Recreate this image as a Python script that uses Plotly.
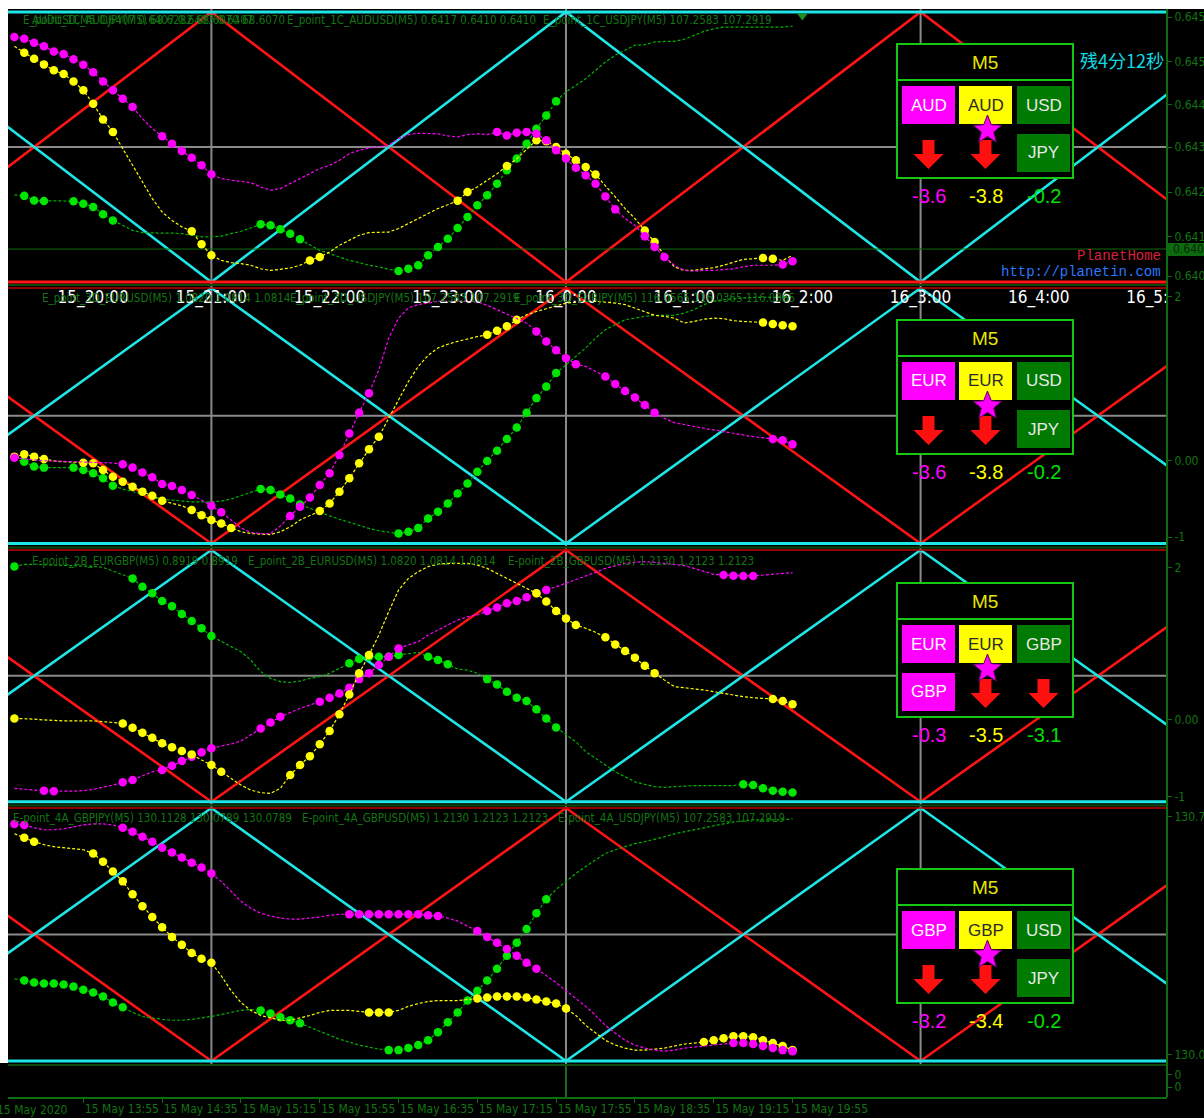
import math
import pandas as pd
import plotly.graph_objects as go

W, H = 1204, 1118

# ------------------------------------------------------------------ data
BAR_START = "2020-05-15 19:20"
N_BARS = 80
BARS = pd.date_range(BAR_START, periods=N_BARS, freq="5min")

X_RANGE = ["2020-05-15 19:16:45", "2020-05-16 05:05:05"]
VGRID_T = ["2020-05-15 21:00", "2020-05-16 00:00", "2020-05-16 03:00"]
TRI_T = ["2020-05-15 18:00", "2020-05-15 21:00", "2020-05-16 00:00",
         "2020-05-16 03:00", "2020-05-16 06:00"]
RED_P1 = [0, 100, 0, 100, 0]
CYAN_P1 = [100, 0, 100, 0, 100]
RED_PN = [100, 0, 100, 0, 100]
CYAN_PN = [0, 100, 0, 100, 0]
MID_LEVEL = 50

HOUR_LABEL_T = ["2020-05-15 20:00", "2020-05-15 21:00", "2020-05-15 22:00",
                "2020-05-15 23:00", "2020-05-16 00:00", "2020-05-16 01:00",
                "2020-05-16 02:00", "2020-05-16 03:00", "2020-05-16 04:00",
                "2020-05-16 05:00"]
HOUR_LABEL_TXT = ["15_20:00", "15_21:00", "15_22:00", "15_23:00", "16_0:00",
                  "16_1:00", "16_2:00", "16_3:00", "16_4:00", "16_5:00"]

BOTTOM_TICK_T = ["2020-05-15 19:55", "2020-05-15 20:35", "2020-05-15 21:15",
                 "2020-05-15 21:55", "2020-05-15 22:35", "2020-05-15 23:15",
                 "2020-05-15 23:55", "2020-05-16 00:35", "2020-05-16 01:15",
                 "2020-05-16 01:55"]
BOTTOM_TICK_TXT = ["15 May 13:55", "15 May 14:35", "15 May 15:15", "15 May 15:55",
                   "15 May 16:35", "15 May 17:15", "15 May 17:55", "15 May 18:35",
                   "15 May 19:15", "15 May 19:55"]

# panel 1 (AUD)
P1_MAG = [90.7, 90.1, 88.6, 87.3, 85.4, 84.4, 82.5, 80.5, 77.7, 74.3,
          71.0, 67.9, 64.8, 60.5, 56.8, 54.0, 51.2, 48.5, 46.0, 43.2,
          39.9, 38.3, 37.7, 37.3, 36.8, 35.2, 34.0, 34.6, 36.4, 38.3,
          40.1, 42.0, 43.2, 45.1, 47.5, 48.8, 49.6, 50.0, 50.6, 53.1,
          54.6, 55.1, 54.9, 54.9, 54.1, 53.7, 54.6, 54.9, 54.6, 55.6,
          54.3, 55.3, 55.6, 54.9, 52.5, 48.8, 45.7, 42.3, 39.5, 36.4,
          31.7, 26.9, 23.5, 21.0, 16.9, 13.0, 9.3, 6.2, 4.3, 4.0,
          4.3, 4.3, 4.7, 4.9, 5.6, 6.2, 6.2, 6.2, 6.5, 7.7]
P1_MAG_DOTS = [(0, 12), (15, 20), (49, 61), (64, 66), (78, 79)]
P1_YEL = [87.3, 84.9, 82.7, 80.6, 78.4, 77.0, 74.3, 71.0, 66.0, 60.2,
          55.6, 49.4, 43.2, 37.0, 30.9, 25.9, 22.8, 20.4, 18.8, 14.0,
          9.9, 8.0, 7.2, 6.8, 6.2, 4.9, 4.3, 4.7, 5.2, 6.2,
          8.0, 9.3, 11.1, 13.6, 15.4, 17.3, 18.3, 18.3, 18.5, 19.8,
          21.6, 23.5, 25.3, 27.2, 28.6, 30.1, 33.3, 35.2, 37.7, 40.1,
          43.0, 45.7, 49.1, 52.5, 52.1, 50.0, 47.5, 45.1, 42.6, 39.8,
          35.8, 31.5, 27.2, 23.5, 19.1, 14.8, 9.9, 5.6, 4.3, 4.3,
          4.9, 5.3, 6.2, 7.4, 8.4, 8.6, 8.9, 8.6, 8.0, 9.9]
P1_YEL_DOTS = [(1, 10), (18, 20), (30, 31), (45, 46), (50, 50), (53, 59), (64, 65), (76, 77)]
P1_GRN = [32.3, 31.9, 30.2, 30.0, 30.1, 30.1, 29.9, 29.0, 27.8, 25.1,
          22.8, 21.0, 19.1, 18.3, 18.1, 18.1, 18.1, 17.9, 17.3, 16.7,
          16.7, 17.0, 17.9, 18.8, 20.0, 21.4, 21.0, 19.5, 17.9, 15.8,
          13.6, 11.7, 10.5, 9.3, 8.0, 7.2, 6.2, 5.6, 4.7, 4.1,
          4.9, 6.2, 9.9, 13.0, 16.0, 20.0, 24.1, 28.4, 32.1, 36.4,
          41.4, 45.7, 51.2, 56.8, 61.7, 66.9, 70.4, 72.8, 75.3, 78.4,
          81.5, 84.0, 85.8, 87.7, 87.9, 88.9, 89.1, 89.1, 89.9, 91.4,
          92.8, 93.8, 94.4, 94.4, 94.4, 94.4, 94.4, 94.4, 94.4, 94.8]
P1_GRN_DOTS = [(1, 3), (6, 10), (25, 29), (39, 55)]
P1_PRICE_LEVEL = 12.2

# panel 2 (EUR / USD / JPY)
P2_MAG = [33.6, 33.1, 32.7, 32.4, 32.3, 32.0, 32.0, 32.0, 31.8, 31.6,
          31.5, 31.0, 29.7, 27.8, 25.9, 23.3, 22.5, 20.9, 19.0, 17.0,
          14.8, 12.2, 9.2, 6.1, 4.3, 3.9, 3.9, 6.9, 10.8, 14.4,
          18.0, 22.9, 27.5, 34.6, 43.1, 51.2, 58.8, 68.0, 80.4, 88.2,
          92.2, 93.5, 94.1, 94.8, 94.8, 94.8, 94.8, 94.5, 93.2, 91.5,
          89.8, 88.2, 86.3, 83.0, 79.1, 75.6, 72.5, 70.2, 69.3, 67.3,
          65.4, 62.4, 59.7, 57.1, 54.2, 51.2, 49.0, 47.3, 46.4, 45.8,
          45.1, 44.4, 43.8, 43.1, 42.5, 41.8, 41.4, 40.9, 40.4, 38.8]
P2_MAG_DOTS = [(0, 0), (11, 18), (20, 21), (28, 36), (53, 57), (60, 65), (77, 79)]
P2_YEL = [34.0, 34.9, 34.0, 33.1, 32.3, 32.0, 31.8, 31.6, 31.4, 28.8,
          26.1, 24.2, 22.2, 20.3, 18.7, 16.7, 15.7, 14.8, 13.1, 11.1,
          9.2, 7.8, 6.1, 4.6, 3.9, 3.7, 3.5, 4.6, 6.5, 9.2,
          11.1, 12.7, 15.7, 20.3, 25.5, 31.4, 36.9, 41.8, 49.0, 56.2,
          63.4, 69.3, 73.6, 76.5, 78.0, 79.1, 80.1, 81.0, 81.7, 83.3,
          85.0, 87.6, 89.5, 90.8, 91.9, 92.8, 94.1, 94.5, 94.8, 94.8,
          94.5, 94.1, 93.5, 92.2, 90.8, 89.3, 88.9, 88.2, 86.3, 86.9,
          87.8, 88.2, 88.0, 87.2, 86.9, 86.7, 86.5, 85.9, 85.4, 85.0]
P2_YEL_DOTS = [(0, 3), (7, 15), (18, 22), (31, 37), (48, 51), (76, 79)]
P2_GRN = [33.1, 32.0, 30.1, 29.7, 29.7, 29.7, 29.7, 28.8, 27.5, 25.5,
          22.6, 21.3, 20.3, 19.2, 18.2, 17.4, 17.0, 16.6, 16.3, 16.3,
          16.3, 16.6, 17.4, 18.7, 20.0, 21.3, 20.9, 19.2, 17.6, 15.3,
          13.7, 12.2, 10.8, 9.5, 8.2, 6.9, 5.9, 5.0, 4.3, 3.9,
          4.6, 6.1, 9.8, 12.4, 15.7, 19.6, 23.5, 28.1, 32.3, 36.3,
          40.9, 45.4, 51.2, 56.9, 61.4, 66.7, 69.9, 73.2, 76.5, 80.4,
          83.7, 85.6, 87.6, 88.2, 88.9, 89.3, 89.3, 89.3, 90.2, 91.5,
          93.5, 94.8, 95.4, 95.8, 96.1, 96.3, 96.3, 96.3, 96.3, 96.3]
P2_GRN_DOTS = [(1, 3), (6, 10), (25, 29), (39, 55)]

# panel 3 (EUR / GBP)
P3_MAG = [5.3, 4.9, 4.6, 4.4, 4.2, 4.2, 4.2, 4.4, 4.9, 5.6,
          6.6, 7.7, 8.6, 10.3, 11.9, 12.6, 14.3, 16.2, 17.9, 19.6,
          21.2, 22.1, 22.9, 24.1, 26.5, 29.1, 31.5, 33.8, 35.4, 37.1,
          38.4, 39.7, 41.3, 43.0, 45.3, 48.7, 51.0, 54.3, 57.6, 60.9,
          62.3, 63.6, 66.2, 68.2, 70.2, 72.2, 73.5, 74.2, 75.8, 77.2,
          78.8, 79.7, 81.2, 82.8, 84.1, 85.4, 86.8, 88.1, 89.4, 91.1,
          92.7, 93.8, 94.7, 95.1, 95.4, 95.1, 94.7, 94.3, 93.8, 92.7,
          91.4, 90.3, 90.1, 89.8, 89.7, 89.7, 90.1, 90.3, 90.7, 91.0]
P3_MAG_DOTS = [(3, 4), (11, 12), (15, 20), (25, 27), (31, 39), (48, 54), (72, 75)]
P3_YEL = [33.1, 33.1, 32.8, 32.5, 32.2, 32.1, 32.1, 32.1, 32.1, 31.8,
          31.5, 31.1, 29.4, 27.4, 25.4, 23.2, 21.6, 20.1, 18.8, 16.6,
          14.6, 11.9, 9.3, 6.6, 4.6, 3.6, 3.3, 5.3, 10.6, 14.6,
          18.1, 22.8, 28.1, 34.7, 42.6, 51.0, 58.3, 66.2, 75.5, 84.1,
          88.7, 91.4, 93.4, 94.4, 94.7, 94.7, 94.7, 94.0, 92.7, 90.7,
          88.7, 86.8, 84.8, 82.8, 79.5, 75.8, 72.8, 70.2, 68.9, 67.3,
          65.3, 62.5, 59.9, 57.2, 54.0, 51.0, 48.3, 45.7, 45.3, 45.0,
          44.4, 43.7, 43.0, 42.1, 41.7, 41.3, 41.1, 40.8, 40.0, 38.7]
P3_YEL_DOTS = [(0, 0), (11, 18), (20, 21), (28, 36), (53, 57), (60, 65), (77, 79)]
P3_GRN = [93.4, 94.3, 94.3, 94.2, 94.0, 94.0, 93.9, 93.8, 93.5, 93.1,
          91.7, 90.1, 88.7, 85.4, 82.8, 79.7, 77.7, 74.6, 71.8, 68.9,
          65.8, 63.6, 61.6, 59.6, 56.3, 51.7, 49.0, 47.7, 47.4, 47.9,
          49.0, 49.7, 51.0, 53.0, 55.0, 56.7, 57.6, 57.6, 57.6, 58.3,
          58.9, 59.3, 57.6, 56.3, 54.6, 52.7, 52.3, 51.0, 48.7, 46.6,
          43.7, 41.3, 40.0, 36.7, 33.1, 29.5, 26.5, 23.8, 19.9, 17.2,
          14.6, 11.9, 9.9, 7.9, 6.9, 6.0, 5.7, 6.0, 6.4, 6.4,
          6.4, 6.4, 6.4, 6.4, 6.9, 6.6, 5.3, 4.4, 4.0, 3.7]
P3_GRN_DOTS = [(0, 0), (12, 20), (34, 39), (42, 44), (48, 55), (74, 79)]

# panel 4 (GBP / USD / JPY)
P4_MAG = [93.7, 93.3, 92.2, 91.4, 91.4, 91.8, 92.5, 93.3, 93.7, 93.7,
          93.3, 92.2, 90.6, 88.6, 86.7, 84.3, 82.4, 80.4, 78.4, 76.5,
          74.1, 71.0, 67.1, 63.1, 60.4, 58.4, 57.3, 56.5, 56.1, 56.1,
          56.5, 56.9, 57.6, 58.0, 58.0, 58.0, 58.0, 58.0, 58.0, 58.0,
          58.0, 58.0, 57.6, 57.3, 56.5, 55.3, 53.3, 51.4, 49.0, 46.7,
          44.3, 41.6, 38.8, 36.5, 33.7, 31.0, 27.8, 24.7, 21.6, 18.0,
          14.1, 11.0, 8.2, 6.3, 5.1, 4.3, 3.9, 4.3, 5.1, 5.5,
          5.9, 6.3, 6.7, 7.1, 7.1, 6.7, 5.9, 5.1, 4.3, 3.9]
P4_MAG_DOTS = [(0, 1), (11, 20), (34, 43), (47, 53), (73, 79)]
P4_YEL = [89.8, 88.2, 86.7, 85.5, 84.7, 84.3, 83.9, 83.5, 82.0, 78.8,
          74.9, 71.0, 65.9, 61.2, 56.9, 52.9, 49.0, 45.9, 42.7, 40.4,
          38.8, 33.7, 27.8, 23.1, 20.0, 18.0, 16.9, 16.1, 16.1, 16.9,
          18.0, 19.2, 20.0, 20.0, 20.0, 19.6, 19.2, 19.2, 19.2, 20.0,
          21.6, 22.7, 23.5, 23.9, 23.9, 23.9, 24.3, 24.7, 25.1, 25.5,
          25.5, 25.5, 25.1, 24.3, 23.5, 22.7, 20.8, 18.0, 14.1, 11.0,
          8.2, 6.3, 5.1, 4.3, 4.3, 4.7, 5.1, 5.9, 6.7, 7.1,
          7.5, 8.2, 9.0, 9.8, 9.8, 9.4, 8.2, 7.1, 5.9, 4.3]
P4_YEL_DOTS = [(1, 2), (8, 20), (36, 38), (47, 56), (70, 79)]
P4_GRN = [32.5, 31.8, 31.0, 30.6, 30.6, 30.2, 29.4, 28.2, 27.1, 25.5,
          23.1, 21.2, 19.2, 17.6, 16.9, 16.5, 16.1, 16.1, 16.5, 16.9,
          17.6, 18.4, 19.2, 20.0, 20.4, 20.0, 18.8, 17.3, 16.1, 14.9,
          13.3, 11.8, 10.2, 8.6, 7.5, 6.3, 5.5, 4.7, 4.3, 4.3,
          5.1, 6.3, 8.2, 11.4, 15.3, 19.2, 23.9, 27.8, 31.8, 36.5,
          41.6, 46.7, 52.2, 58.4, 63.9, 67.8, 71.0, 74.1, 76.9, 79.6,
          82.0, 83.5, 84.7, 85.9, 86.7, 87.5, 88.6, 89.8, 90.6, 91.4,
          92.2, 92.9, 93.7, 94.5, 94.9, 95.3, 95.3, 95.3, 95.3, 95.7]
P4_GRN_DOTS = [(1, 11), (25, 29), (38, 54)]

# right-axis labels (value positions in each panel's 0..100 channel scale)
P1_TICK_VALS = [98.1, 81.5, 65.6, 50.0, 33.3, 16.7, 2.2]
P1_TICK_TXT = ["0.6456", "0.6452", "0.6442", "0.6431", "0.6421", "0.6410", "0.6401"]
P2_TICK_VALS = [96.5, 32.3, 2.5]
P2_TICK_TXT = ["2", "0.00", "-1"]
P3_TICK_VALS = [93.0, 32.5, 2.0]
P3_TICK_TXT = ["2", "0.00", "-1"]
P4_TICK_VALS = [96.6, 2.4]
P4_TICK_TXT = ["130.72", "130.04"]
P5_TICK_VALS = [0.71, 0.32]
P5_TICK_TXT = ["0", "0"]

# strength panels
BOX_TITLES = ["M5", "M5", "M5", "M5"]
BOX_CELLS = [
    [("AUD", 0, 0, "m"), ("AUD", 1, 0, "y"), ("USD", 2, 0, "g"), ("JPY", 2, 1, "g")],
    [("EUR", 0, 0, "m"), ("EUR", 1, 0, "y"), ("USD", 2, 0, "g"), ("JPY", 2, 1, "g")],
    [("EUR", 0, 0, "m"), ("EUR", 1, 0, "y"), ("GBP", 2, 0, "g"), ("GBP", 0, 1, "m")],
    [("GBP", 0, 0, "m"), ("GBP", 1, 0, "y"), ("USD", 2, 0, "g"), ("JPY", 2, 1, "g")],
]
BOX_ARROWS = [[0, 1], [0, 1], [1, 2], [0, 1]]
BOX_VALUES = [["-3.6", "-3.8", "-0.2"], ["-3.6", "-3.8", "-0.2"],
              ["-0.3", "-3.5", "-3.1"], ["-3.2", "-3.4", "-0.2"]]

HEADERS = [
    [("E_point_1C_AUDJPY(M5) 68.6282 68.6070 68.6070", 21),
     ("AUDUSD,M5 0.6407 0.6407 0.6407 0.6407", 30),
     ("E_point_1C_AUDUSD(M5) 0.6417 0.6410 0.6410", 285),
     ("E_point_1C_USDJPY(M5) 107.2583 107.2919", 541)],
    [("E_point_3D_EURUSD(M5) 1.0820 1.0814 1.0814", 40),
     ("E_point_3D_USDJPY(M5) 107.2583 107.2919", 288),
     ("E_point_3D_EURJPY(M5) 116.0565 116.0365 116.0365", 512)],
    [("E-point_2B_EURGBP(M5) 0.8919 0.8919", 30),
     ("E_point_2B_EURUSD(M5) 1.0820 1.0814 1.0814", 246),
     ("E-point_2B_GBPUSD(M5) 1.2130 1.2123 1.2123", 506)],
    [("E-point_4A_GBPJPY(M5) 130.1128 130.0789 130.0789", 11),
     ("E-point_4A_GBPUSD(M5) 1.2130 1.2123 1.2123", 300),
     ("E-point_4A_USDJPY(M5) 107.2583 107.2919", 556)],
]

for arr in [P1_MAG, P1_YEL, P1_GRN, P2_MAG, P2_YEL, P2_GRN,
            P3_MAG, P3_YEL, P3_GRN, P4_MAG, P4_YEL, P4_GRN]:
    assert len(arr) == N_BARS, len(arr)

# ------------------------------------------------------------------ style / layout
NARROW = "Liberation Sans Narrow, DejaVu Sans Condensed, Arial Narrow, sans-serif"
SANS = "Liberation Sans, Arial, sans-serif"
MONO = "Liberation Mono, DejaVu Sans Mono, monospace"
CJK = "Noto Sans CJK JP, Noto Sans CJK SC, sans-serif"
AX_GREEN = "#0e6e0e"
LBL_GREEN = "#137513"
MAG, YEL = "#ff00ff", "#ffff00"
GRN_DOT, GRN_LINE = "#00e600", "#00b400"
RED, CYAN, GRAY = "#ff1414", "#1ee6e6", "#8a8a8a"

PANELS = [(12, 282), (288, 543.5), (550, 801.7), (808, 1061)]
HEADER_ROWS = [20, 298, 561, 818]


def xd(px):
    return px / W


def yd(py):
    return 1 - py / H


fig = go.Figure()
layout_axes = {}


def yname(i):
    return "y" if i == 0 else f"y{i + 1}"


series = [
    [(P1_GRN, P1_GRN_DOTS, "g"), (P1_YEL, P1_YEL_DOTS, "y"), (P1_MAG, P1_MAG_DOTS, "m")],
    [(P2_GRN, P2_GRN_DOTS, "g"), (P2_YEL, P2_YEL_DOTS, "y"), (P2_MAG, P2_MAG_DOTS, "m")],
    [(P3_GRN, P3_GRN_DOTS, "g"), (P3_MAG, P3_MAG_DOTS, "m"), (P3_YEL, P3_YEL_DOTS, "y")],
    [(P4_GRN, P4_GRN_DOTS, "g"), (P4_YEL, P4_YEL_DOTS, "y"), (P4_MAG, P4_MAG_DOTS, "m")],
]
ticks = [(P1_TICK_VALS, P1_TICK_TXT), (P2_TICK_VALS, P2_TICK_TXT),
         (P3_TICK_VALS, P3_TICK_TXT), (P4_TICK_VALS, P4_TICK_TXT)]
COL = {"m": (MAG, MAG), "y": (YEL, YEL), "g": (GRN_LINE, GRN_DOT)}

for i, (P, T) in enumerate(PANELS):
    ya = yname(i)
    e = 3 * 100 / (T - P)
    lo, hi = -e, 100 + e
    axkey = "yaxis" if i == 0 else f"yaxis{i + 1}"
    layout_axes[axkey] = dict(
        domain=[yd(T + 3), yd(P - 3)], range=[lo, hi], anchor="x", side="right",
        showgrid=False, zeroline=False, showline=False, ticks="outside", ticklen=4,
        tickcolor=AX_GREEN, tickvals=ticks[i][0], ticktext=ticks[i][1], automargin=False,
        tickfont=dict(family=NARROW, size=12, color=LBL_GREEN), fixedrange=True)

    gx, gy = [], []
    for g in VGRID_T:
        gx += [g, g, None]
        gy += [lo, hi, None]
    fig.add_trace(go.Scatter(x=gx, y=gy, yaxis=ya, mode="lines",
                             line=dict(color=GRAY, width=2), hoverinfo="skip"))
    fig.add_trace(go.Scatter(x=X_RANGE, y=[MID_LEVEL, MID_LEVEL], yaxis=ya, mode="lines",
                             line=dict(color=GRAY, width=2), hoverinfo="skip"))
    red = RED_P1 if i == 0 else RED_PN
    cyan = CYAN_P1 if i == 0 else CYAN_PN
    fig.add_trace(go.Scatter(x=TRI_T, y=red, yaxis=ya, mode="lines",
                             line=dict(color=RED, width=2.6), hoverinfo="skip"))
    fig.add_trace(go.Scatter(x=TRI_T, y=cyan, yaxis=ya, mode="lines",
                             line=dict(color=CYAN, width=2.6), hoverinfo="skip"))
    if i == 0:
        fig.add_trace(go.Scatter(x=X_RANGE, y=[100, 100], yaxis=ya, mode="lines",
                                 line=dict(color=CYAN, width=3), hoverinfo="skip"))
        fig.add_trace(go.Scatter(x=X_RANGE, y=[0, 0], yaxis=ya, mode="lines",
                                 line=dict(color=RED, width=3), hoverinfo="skip"))
        fig.add_trace(go.Scatter(x=X_RANGE, y=[P1_PRICE_LEVEL] * 2, yaxis=ya, mode="lines",
                                 line=dict(color="#0b6a0b", width=1), hoverinfo="skip"))
    else:
        fig.add_trace(go.Scatter(x=X_RANGE, y=[100, 100], yaxis=ya, mode="lines",
                                 line=dict(color="#c00000", width=1.6), hoverinfo="skip"))
        fig.add_trace(go.Scatter(x=X_RANGE, y=[0, 0], yaxis=ya, mode="lines",
                                 line=dict(color=CYAN, width=3), hoverinfo="skip"))

    for vals, dots, c in series[i]:
        lc, dc = COL[c]
        fig.add_trace(go.Scatter(x=BARS, y=vals, yaxis=ya, mode="lines",
                                 line=dict(color=lc, width=1.2, dash="3px,2px"),
                                 hoverinfo="skip"))
        dy = [None] * N_BARS
        for a, b in dots:
            for k in range(a, b + 1):
                dy[k] = vals[k]
        fig.add_trace(go.Scatter(x=BARS, y=dy, yaxis=ya, mode="markers",
                                 marker=dict(color=dc, size=8.5, line=dict(width=0)),
                                 cliponaxis=False, hoverinfo="skip"))

fig.add_trace(go.Scatter(x=HOUR_LABEL_T, y=[95.8] * len(HOUR_LABEL_T), yaxis="y2",
                         mode="text", text=HOUR_LABEL_TXT, cliponaxis=True,
                         textfont=dict(family=NARROW, size=17, color="white"),
                         hoverinfo="skip"))
fig.add_trace(go.Scatter(x=["2020-05-16 02:00"], y=[98.5], yaxis="y", mode="markers",
                         marker=dict(symbol="triangle-down", size=9, color="#1f8f1f"),
                         cliponaxis=False, hoverinfo="skip"))

layout_axes["yaxis5"] = dict(
    domain=[yd(1097), yd(1066)], range=[0, 1], anchor="x", side="right",
    showgrid=False, zeroline=False, showline=False, ticks="outside", ticklen=4,
    tickcolor=AX_GREEN, tickvals=P5_TICK_VALS, ticktext=P5_TICK_TXT, automargin=False,
    tickfont=dict(family=NARROW, size=12, color=LBL_GREEN), fixedrange=True)
fig.add_trace(go.Scatter(x=[VGRID_T[1], VGRID_T[1]], y=[0, 1], yaxis="y5", mode="lines",
                         line=dict(color="#3ccf3c", width=1), hoverinfo="skip"))

# ------------------------------------------------------------------ shapes & annotations
shapes, annots = [], []
shapes.append(dict(type="rect", xref="paper", yref="paper", x0=0, x1=1, y0=yd(9), y1=1,
                   fillcolor="white", line=dict(width=0), layer="below"))
shapes.append(dict(type="rect", xref="paper", yref="paper", x0=0, x1=xd(8), y0=yd(1063), y1=1,
                   fillcolor="white", line=dict(width=0), layer="below"))
for py in [285, 547.5, 805.5, 1065]:
    shapes.append(dict(type="line", xref="paper", yref="paper", x0=xd(8), x1=xd(1167),
                       y0=yd(py), y1=yd(py), line=dict(color="#0b4a0b", width=2)))
shapes.append(dict(type="line", xref="paper", yref="paper", x0=xd(1167), x1=xd(1167),
                   y0=yd(1097), y1=yd(9), line=dict(color=AX_GREEN, width=2)))
shapes.append(dict(type="rect", xref="paper", yref="paper", x0=xd(1168), x1=xd(1204),
                   y0=yd(256), y1=yd(243), fillcolor="#0e6a0e", line=dict(width=0)))
annots.append(dict(text="0.6407", x=xd(1171), y=yd(249.5), xref="paper", yref="paper",
                   xanchor="left", yanchor="middle", showarrow=False,
                   font=dict(family=NARROW, size=12, color="#032803")))

for row, items in zip(HEADER_ROWS, HEADERS):
    for txt, px in items:
        annots.append(dict(text=txt, x=xd(px), y=yd(row), xref="paper", yref="paper",
                           xanchor="left", yanchor="middle", showarrow=False,
                           font=dict(family=NARROW, size=11.5, color=LBL_GREEN)))

annots.append(dict(text="15 May 2020", x=xd(70), y=yd(1110), xref="paper", yref="paper",
                   xanchor="right", yanchor="middle", showarrow=False,
                   font=dict(family=NARROW, size=12, color=LBL_GREEN)))

annots.append(dict(text="残4分12秒", x=xd(1166), y=yd(60), xref="paper", yref="paper",
                   xanchor="right", yanchor="middle", showarrow=False,
                   font=dict(family=CJK, size=18, color="#10d8e0")))
annots.append(dict(text="PlanetHome", x=xd(1163), y=yd(256), xref="paper", yref="paper",
                   xanchor="right", yanchor="middle", showarrow=False,
                   font=dict(family=MONO, size=14, color="#d8203c")))
annots.append(dict(text="http://planetin.com", x=xd(1163), y=yd(272), xref="paper",
                   yref="paper", xanchor="right", yanchor="middle", showarrow=False,
                   font=dict(family=MONO, size=14, color="#2a78ff")))

BOX_TOPS = [43, 319, 582, 868]
COLS_X = [(902, 955), (959, 1012), (1017, 1070)]
CELL_FILL = {"m": "#ff00ff", "y": "#ffff00", "g": "#007a00"}
CELL_TXT = {"m": "white", "y": "#2a2a2a", "g": "#e8e8e8"}
VAL_COL = ["#ff00ff", "#ffff00", "#00e000"]


def path_px(pts):
    return "M " + " L ".join(f"{xd(x):.5f},{yd(y):.5f}" for x, y in pts) + " Z"


for b, top in enumerate(BOX_TOPS):
    shapes.append(dict(type="rect", xref="paper", yref="paper", x0=xd(897), x1=xd(1073),
                       y0=yd(top + 135), y1=yd(top + 1), fillcolor="black",
                       line=dict(color="#16c816", width=2)))
    shapes.append(dict(type="line", xref="paper", yref="paper", x0=xd(897), x1=xd(1073),
                       y0=yd(top + 37), y1=yd(top + 37), line=dict(color="#16c816", width=2)))
    annots.append(dict(text=BOX_TITLES[b], x=xd(985), y=yd(top + 19), xref="paper",
                       yref="paper", showarrow=False, xanchor="center", yanchor="middle",
                       font=dict(family=SANS, size=19, color="#e6e600")))
    for txt, c, r, kind in BOX_CELLS[b]:
        x0, x1 = COLS_X[c]
        y0 = top + 43 + r * 48
        y1 = y0 + 38
        shapes.append(dict(type="rect", xref="paper", yref="paper", x0=xd(x0), x1=xd(x1),
                           y0=yd(y1), y1=yd(y0), fillcolor=CELL_FILL[kind],
                           line=dict(width=0)))
        annots.append(dict(text=txt, x=xd((x0 + x1) / 2), y=yd((y0 + y1) / 2), xref="paper",
                           yref="paper", showarrow=False, xanchor="center", yanchor="middle",
                           font=dict(family=SANS, size=17, color=CELL_TXT[kind])))
    for c in BOX_ARROWS[b]:
        cx = (COLS_X[c][0] + COLS_X[c][1]) / 2
        pts = [(cx - 6, top + 97), (cx + 6, top + 97), (cx + 6, top + 111),
               (cx + 15, top + 111), (cx, top + 126), (cx - 15, top + 111),
               (cx - 6, top + 111)]
        shapes.append(dict(type="path", xref="paper", yref="paper", path=path_px(pts),
                           fillcolor="#ff1010", line=dict(width=0)))
    scx, scy = (COLS_X[1][0] + COLS_X[1][1]) / 2 + 2, top + 87
    pts = []
    for k in range(10):
        ang = -math.pi / 2 + k * math.pi / 5
        rr = 15 if k % 2 == 0 else 6.5
        pts.append((scx + rr * math.cos(ang), scy + rr * math.sin(ang)))
    shapes.append(dict(type="path", xref="paper", yref="paper", path=path_px(pts),
                       fillcolor="#ff00ff", line=dict(color="#5a005a", width=1)))
    for c in range(3):
        cx = (COLS_X[c][0] + COLS_X[c][1]) / 2
        annots.append(dict(text=BOX_VALUES[b][c], x=xd(cx), y=yd(top + 153), xref="paper",
                           yref="paper", showarrow=False, xanchor="center", yanchor="middle",
                           font=dict(family=SANS, size=20, color=VAL_COL[c])))

fig.update_layout(
    width=W, height=H, autosize=False, margin=dict(l=0, r=0, t=0, b=0, pad=0),
    paper_bgcolor="black", plot_bgcolor="rgba(0,0,0,0)", showlegend=False,
    xaxis=dict(type="date", range=X_RANGE, domain=[xd(8), xd(1167)], anchor="y5",
               showgrid=False, zeroline=False, showline=True, linecolor=AX_GREEN,
               linewidth=2, ticks="outside", ticklen=4, tickcolor=AX_GREEN,
               tickvals=BOTTOM_TICK_T, ticktext=BOTTOM_TICK_TXT, tickangle=0,
               ticklabelposition="outside right", automargin=False,
               tickfont=dict(family=NARROW, size=12, color=LBL_GREEN), fixedrange=True),
    shapes=shapes, annotations=annots, **layout_axes)

fig.write_html("out.html", config={"responsive": False, "displayModeBar": False},
               default_width="1204px", default_height="1118px",
               post_script="document.body.style.margin='0';"
                           "document.body.style.overflow='hidden';")
